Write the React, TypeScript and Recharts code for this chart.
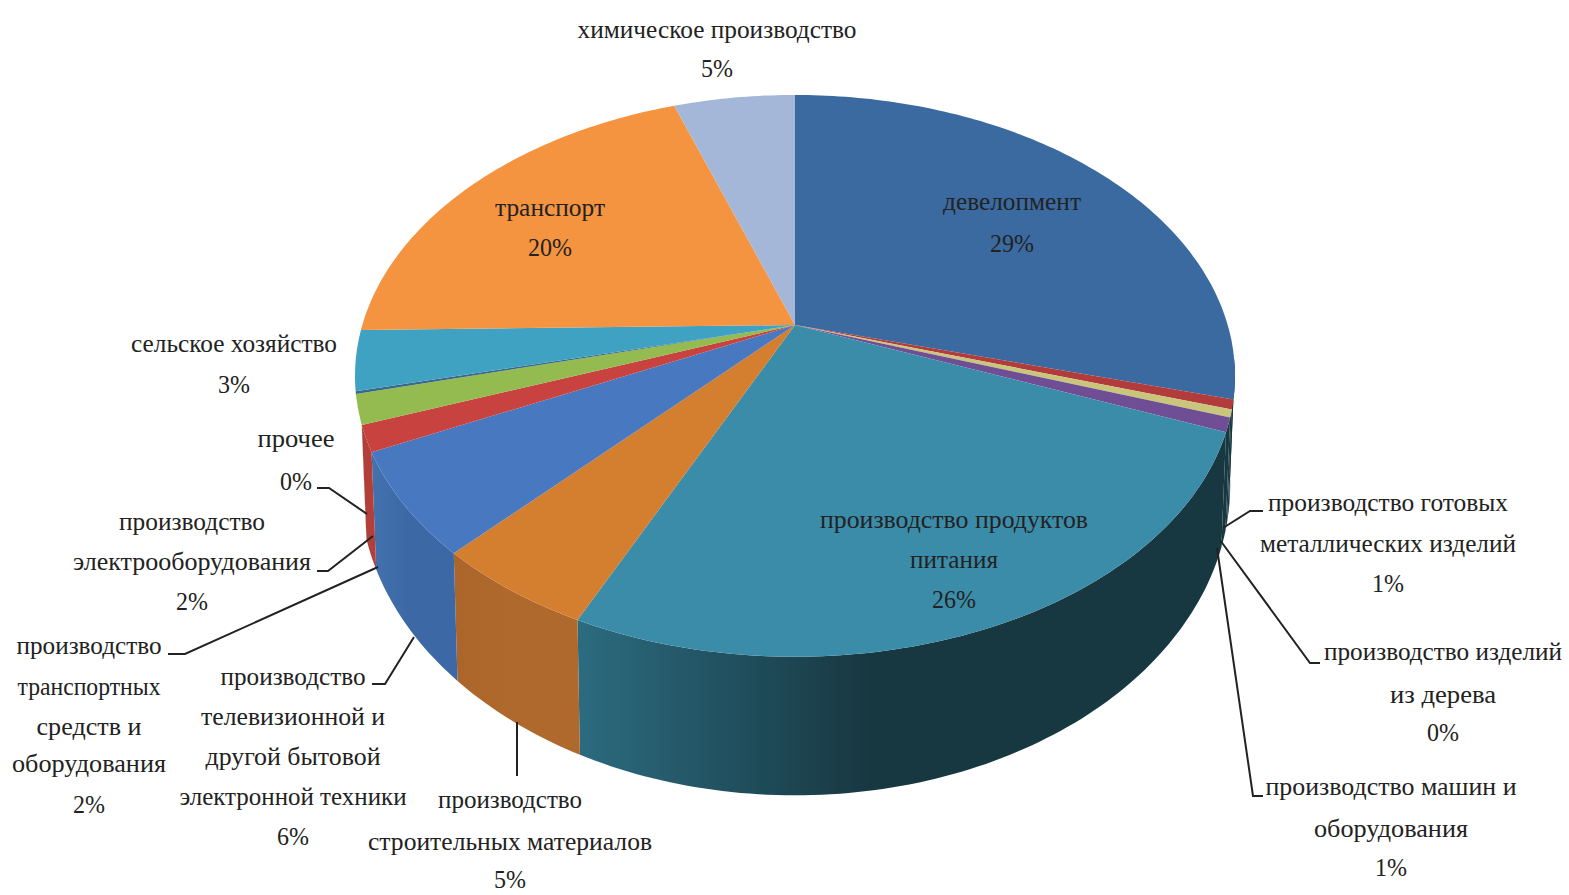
import { PieChart, Pie } from 'recharts';

const categories = [
  'девелопмент',
  'производство готовых металлических изделий',
  'производство изделий из дерева',
  'производство машин и оборудования',
  'производство продуктов питания',
  'производство строительных материалов',
  'производство телевизионной и другой бытовой электронной техники',
  'производство транспортных средств и оборудования',
  'производство электрооборудования',
  'прочее',
  'сельское хозяйство',
  'транспорт',
  'химическое производство',
];
const values = [29.2, 0.55, 0.45, 0.8, 25.9, 5.1, 5.9, 1.5, 1.7, 0.15, 3.45, 20, 5.3];
const percentLabels = ['29%', '1%', '0%', '1%', '26%', '5%', '6%', '2%', '2%', '0%', '3%', '20%', '5%'];
const labelLines = [
  ['девелопмент'],
  ['производство готовых', 'металлических изделий'],
  ['производство изделий', 'из дерева'],
  ['производство машин и', 'оборудования'],
  ['производство продуктов', 'питания'],
  ['производство', 'строительных материалов'],
  ['производство', 'телевизионной и', 'другой бытовой', 'электронной техники'],
  ['производство', 'транспортных', 'средств и', 'оборудования'],
  ['производство', 'электрооборудования'],
  ['прочее'],
  ['сельское хозяйство'],
  ['транспорт'],
  ['химическое производство'],
];

const topColors = ['#3b6aa0', '#b23c3c', '#c9c67c', '#6f4e96', '#3b8ca8', '#d47e30', '#4778c0', '#c8423f', '#93bb4f', '#3a6888', '#3fa2c2', '#f59440', '#a5b7d9'];
const wallFrom = ['#173841', '#173841', '#173841', '#173841', '#173841', '#b0692c', '#3c69a6', '#b23f3a', '#7d9f42', '#2f5670', '#33839d', '#c77732', '#8494ae'];
const wallTo = ['#173841', '#173841', '#173841', '#173841', '#2c6b80', '#ab652a', '#4272ae', '#b23f3a', '#7d9f42', '#2f5670', '#33839d', '#c77732', '#8494ae'];

// label placement, one entry per category: centre x, baselines and widths of the lines (percent line last)
const labelLayout = [
  { x: 1012, y: [210, 252], w: [138, 44] },
  { x: 1388, y: [511, 552, 592], w: [240, 256, 32] },
  { x: 1443, y: [660, 703, 741], w: [238, 106, 32] },
  { x: 1391, y: [795, 837, 876], w: [251, 154, 32] },
  { x: 954, y: [528, 568, 608], w: [268, 88, 44] },
  { x: 510, y: [808, 850, 888], w: [144, 284, 32] },
  { x: 293, y: [685, 725, 765, 805, 845], w: [145, 184, 175, 227, 32] },
  { x: 89, y: [654, 695, 735, 772, 813], w: [145, 143, 105, 154, 32] },
  { x: 192, y: [530, 570, 610], w: [146, 238, 32] },
  { x: 296, y: [447, 490], w: [77, 32] },
  { x: 234, y: [352, 393], w: [206, 32] },
  { x: 550, y: [216, 256], w: [110, 44] },
  { x: 717, y: [38, 77], w: [279, 32] },
];
const leaderLines = [
  '',
  '1263,511 1250,511 1223,528',
  '1320,663 1310,663 1220,540',
  '1263,796 1253,796 1217,548',
  '',
  '517,722 517,776',
  '372,684 385,684 414,637',
  '168,654 185,654 378,567',
  '317,571 328,571 373,536',
  '317,488 329,488 367,514',
  '',
  '',
  '',
];

const topRows = categories.map((name, i) => ({ name, value: values[i], fill: topColors[i] }));

// the 3D look: pie rim is a perspective-projected circle, top face and bottom face
const PERSPECTIVE = 0.181;
const topFace = { x: 795, y: 325, a: 432.7, b: 271.7 };
const bottomFace = { x: 795, y: 429, a: 428, b: 300 };
const WALL_FROM = 97;
const WALL_TO = 250;

function project(theta: number, f: typeof topFace) {
  const r = (theta * Math.PI) / 180;
  const k = 1 + PERSPECTIVE * Math.cos(r);
  return [f.x + (f.a * Math.sin(r)) / k, f.y - (f.b * Math.cos(r)) / k];
}

function arc(from: number, to: number, f: typeof topFace) {
  const pts: number[][] = [];
  const n = Math.max(1, Math.ceil(Math.abs(to - from)));
  for (let i = 0; i <= n; i++) pts.push(project(from + ((to - from) * i) / n, f));
  return pts;
}

const toPath = (pts: number[][]) => 'M' + pts.map((p) => p[0].toFixed(1) + ' ' + p[1].toFixed(1)).join('L') + 'Z';

function TopSlice(props: any) {
  const from = 90 - props.startAngle;
  const to = 90 - props.endAngle;
  const idx = categories.indexOf(props.name);
  return <path d={toPath([[topFace.x, topFace.y], ...arc(from, to, topFace)])} fill={topColors[idx]} />;
}

function WallSlice(props: any) {
  const idx = categories.indexOf(props.name);
  const from = Math.max(90 - props.startAngle, WALL_FROM);
  const to = Math.min(90 - props.endAngle, WALL_TO);
  if (to <= from) return <g />;
  const upper = arc(from, to, topFace);
  const lower = arc(to, from, bottomFace);
  const id = 'wall-' + idx;
  return (
    <g>
      <defs>
        <linearGradient id={id} gradientUnits="userSpaceOnUse" x1={upper[0][0]} x2={upper[upper.length - 1][0]} y1={0} y2={0}>
          <stop offset="0" stopColor={wallFrom[idx]} />
          <stop offset="0.55" stopColor={wallFrom[idx]} />
          <stop offset="1" stopColor={wallTo[idx]} />
        </linearGradient>
      </defs>
      <path d={toPath([...upper, ...lower])} fill={`url(#${id})`} />
    </g>
  );
}

function SliceLabel(props: any) {
  const i = props.index;
  const layout = labelLayout[i];
  const lines = [...labelLines[i], percentLabels[i]];
  return (
    <g>
      {leaderLines[i] && <polyline points={leaderLines[i]} fill="none" stroke="#222" strokeWidth={2} />}
      {lines.map((line, k) => (
        <text
          key={k}
          x={layout.x}
          y={layout.y[k]}
          textAnchor="middle"
          textLength={layout.w[k]}
          lengthAdjust="spacingAndGlyphs"
          fontFamily="'Liberation Serif', serif"
          fontSize={26}
          fill="#222"
        >
          {line}
        </text>
      ))}
    </g>
  );
}

export default function App() {
  return (
    <div style={{ position: 'absolute', left: 0, top: 0, width: 1569, height: 895, background: '#fff' }}>
      <PieChart width={1569} height={895} margin={{ top: 0, right: 0, bottom: 0, left: 0 }}>
        <Pie
          data={topRows}
          dataKey="value"
          nameKey="name"
          cx={795}
          cy={325}
          outerRadius={300}
          startAngle={90}
          endAngle={-270}
          stroke="none"
          shape={WallSlice}
          isAnimationActive={false}
        />
        <Pie
          data={topRows}
          dataKey="value"
          nameKey="name"
          cx={795}
          cy={325}
          outerRadius={300}
          startAngle={90}
          endAngle={-270}
          stroke="none"
          shape={TopSlice}
          label={SliceLabel}
          labelLine={false}
          isAnimationActive={false}
        />
      </PieChart>
    </div>
  );
}
